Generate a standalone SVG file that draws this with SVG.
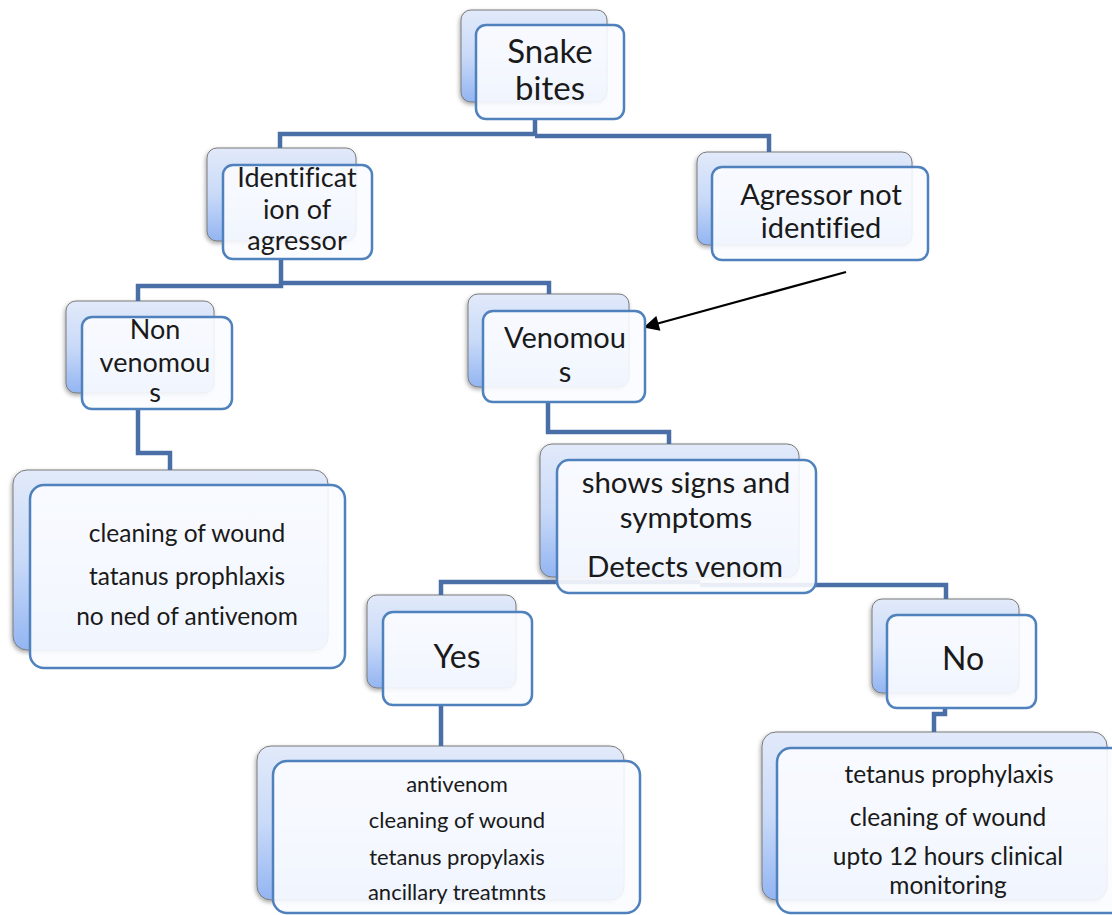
<svg xmlns="http://www.w3.org/2000/svg" width="1112" height="915" viewBox="0 0 1112 915">
<defs>
<linearGradient id="bg" x1="0" y1="0" x2="0" y2="1">
<stop offset="0" stop-color="#e2eafa"/>
<stop offset="0.5" stop-color="#c9daf8"/>
<stop offset="1" stop-color="#93b5f2"/>
</linearGradient>
<filter id="sh" x="-10%" y="-10%" width="120%" height="130%">
<feDropShadow dx="-1" dy="2" stdDeviation="2" flood-color="#000" flood-opacity="0.35"/>
</filter>
<marker id="ah" viewBox="0 0 10 10" refX="9" refY="5" markerWidth="8" markerHeight="7" markerUnits="strokeWidth" orient="auto">
<path d="M0,0 L10,5 L0,10 z" fill="#000"/>
</marker>
<style>
.back{fill:url(#bg);stroke:#7a7a7a;stroke-width:1;filter:url(#sh);}
.front{fill:#fbfcff;fill-opacity:0.9;stroke:#4f81bd;stroke-width:2.5;}
.conn{fill:none;stroke:#4a6fa6;stroke-width:4.5;stroke-linejoin:miter;}
text{font-family:Lato,"Liberation Sans",sans-serif;fill:#1a1a1a;text-anchor:middle;font-variant-ligatures:none;}
.t1{font-size:33px;}
.t2{font-size:27px;}
.t2b{font-size:29px;}
.t2c{font-size:29.5px;}
.t3{font-size:32px;}
.t4{font-size:24.5px;}
.t5{font-size:22px;}
</style>
</defs>
<rect width="1112" height="915" fill="#fff"/>

<g id="backs">
<rect class="back" x="461" y="10" width="146" height="92" rx="10"/>
<rect class="back" x="207" y="148" width="149" height="93" rx="10"/>
<rect class="back" x="697" y="152" width="215" height="93" rx="10"/>
<rect class="back" x="66" y="301" width="148" height="92" rx="10"/>
<rect class="back" x="468" y="294" width="161" height="93" rx="10"/>
<rect class="back" x="540" y="444" width="259" height="133" rx="12"/>
<rect class="back" x="367" y="595" width="149" height="93" rx="10"/>
<rect class="back" x="872" y="599" width="147" height="94" rx="10"/>
<rect class="back" x="13" y="470" width="315" height="180" rx="14"/>
<rect class="back" x="257" y="746" width="367" height="154" rx="14"/>
<rect class="back" x="762" y="732" width="345" height="168" rx="14"/>
</g>

<g id="connectors">
<path class="conn" d="M535,119 V134 H280 V148"/>
<path class="conn" d="M535,136 H769 V152"/>
<path class="conn" d="M281,259 V286 H138 V301"/>
<path class="conn" d="M281,283 H549 V294"/>
<path class="conn" d="M138,409 V453 H170 V470"/>
<path class="conn" d="M548,402 V432 H669 V444"/>
<path class="conn" d="M441,595 V582 H700"/>
<path class="conn" d="M700,585 H946 V599"/>
<path class="conn" d="M441,705 V746"/>
<path class="conn" d="M945,708 V714 H934 V732"/>
<line x1="846" y1="272" x2="645" y2="327" stroke="#000" stroke-width="2.2" marker-end="url(#ah)"/>
</g>

<g id="n-snake">
<rect class="front" x="476" y="25" width="148" height="94" rx="10"/>
<text class="t1" x="550" y="63">Snake</text>
<text class="t1" x="550" y="100">bites</text>
</g>
<g id="n-ident">
<rect class="front" x="223" y="165" width="149" height="94" rx="10"/>
<text class="t2" x="297" y="187">Identificat</text>
<text class="t2" x="297" y="219">ion of</text>
<text class="t2" x="297" y="250">agressor</text>
</g>
<g id="n-notident">
<rect class="front" x="712" y="167" width="216" height="93" rx="10"/>
<text class="t2b" x="821" y="205">Agressor not</text>
<text class="t2b" x="821" y="238">identified</text>
</g>
<g id="n-nonven">
<rect class="front" x="82" y="317" width="150" height="92" rx="10"/>
<text class="t2" x="155" y="339">Non</text>
<text class="t2" x="155" y="372">venomou</text>
<text class="t2" x="155" y="402">s</text>
</g>
<g id="n-ven">
<rect class="front" x="483" y="311" width="162" height="91" rx="10"/>
<text class="t2b" x="565" y="348">Venomou</text>
<text class="t2b" x="565" y="382">s</text>
</g>
<g id="n-signs">
<rect class="front" x="557" y="460" width="259" height="133" rx="12"/>
<text class="t2c" x="686" y="493">shows signs and</text>
<text class="t2c" x="686" y="528">symptoms</text>
<text class="t2c" x="685" y="577">Detects venom</text>
</g>
<g id="n-yes">
<rect class="front" x="383" y="612" width="149" height="93" rx="10"/>
<text class="t3" x="457" y="668">Yes</text>
</g>
<g id="n-no">
<rect class="front" x="887" y="615" width="149" height="93" rx="10"/>
<text class="t3" x="963" y="670">No</text>
</g>
<g id="n-nonvres">
<rect class="front" x="30" y="485" width="315" height="183" rx="14"/>
<text class="t4" x="187" y="542">cleaning of wound</text>
<text class="t4" x="187" y="585">tatanus prophlaxis</text>
<text class="t4" x="187" y="625">no ned of antivenom</text>
</g>
<g id="n-yesres">
<rect class="front" x="273" y="761" width="367" height="152" rx="14"/>
<text class="t5" x="457" y="792">antivenom</text>
<text class="t5" x="457" y="828">cleaning of wound</text>
<text class="t5" x="457" y="865">tetanus propylaxis</text>
<text class="t5" x="457" y="900">ancillary treatmnts</text>
</g>
<g id="n-nores">
<rect class="front" x="777" y="748" width="350" height="165" rx="14"/>
<text class="t4" x="949" y="783">tetanus prophylaxis</text>
<text class="t4" x="948" y="826">cleaning of wound</text>
<text class="t4" x="948" y="865">upto 12 hours clinical</text>
<text class="t4" x="948" y="894">monitoring</text>
</g>
</svg>
